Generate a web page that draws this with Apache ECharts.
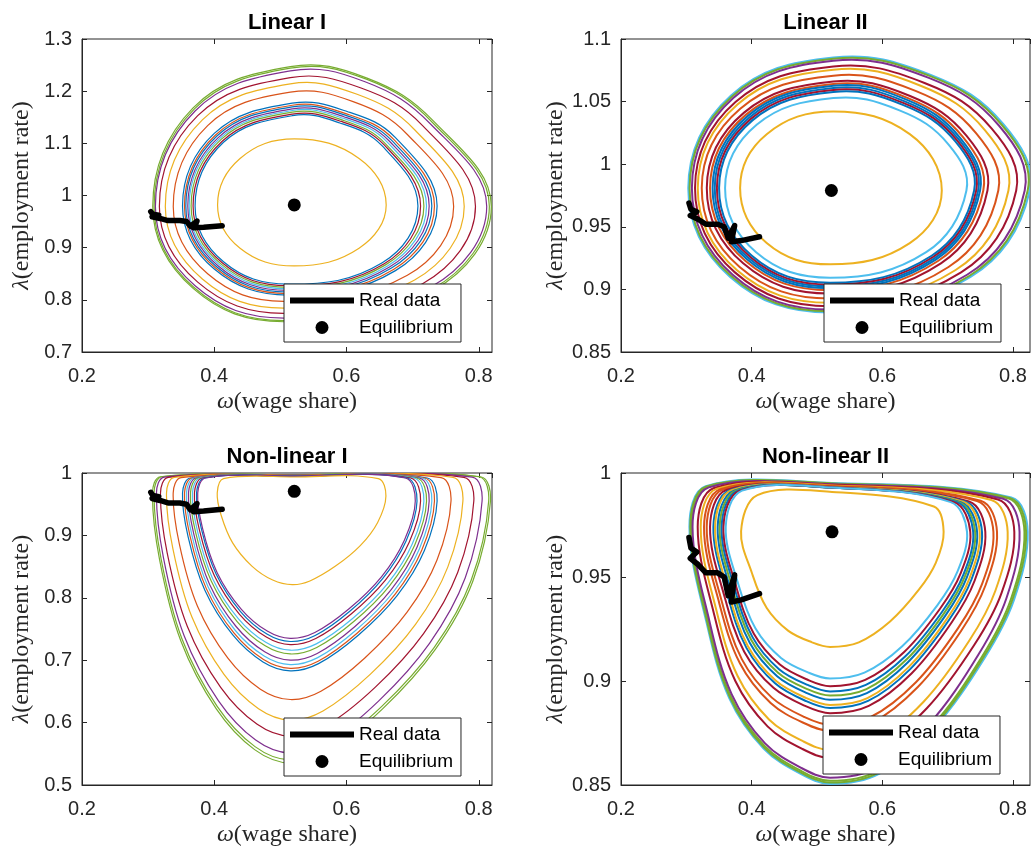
<!DOCTYPE html>
<html lang="en">
<head>
<meta charset="UTF-8" />
<title>Goodwin orbits</title>
<script src="https://cdn.jsdelivr.net/npm/echarts@6.0.0/dist/echarts.min.js"></script>
<style>
  html, body { margin: 0; padding: 0; background: #fff; }
  #lienzo { width: 1033px; height: 853px; }
</style>
</head>
<body>
<div id="lienzo"></div>
<script>
// observed data (same for every panel)
const realOmega = [0.304, 0.307, 0.316, 0.306, 0.318, 0.330, 0.348, 0.358, 0.364, 0.374, 0.369, 0.384, 0.412];
const realLambda = [0.969, 0.964, 0.962, 0.959, 0.956, 0.952, 0.952, 0.950, 0.941, 0.951, 0.938, 0.939, 0.942];

// equilibrium point of each model [omega, lambda]
const eqLinear1 = [0.521, 0.982];
const eqLinear2 = [0.522, 0.979];
const eqNonlinear1 = [0.521, 0.9707];
const eqNonlinear2 = [0.523, 0.9717];

// simulated orbits, one closed list of [omega, lambda] points per orbit
const orbitsLinear1 = [
  [[0.307,0.979],[0.368,1.168],[0.515,1.247],[0.631,1.225],[0.732,1.142],[0.819,0.979],[0.732,0.819],[0.505,0.758],[0.368,0.822]],
  [[0.309,0.979],[0.370,1.166],[0.515,1.244],[0.630,1.223],[0.730,1.140],[0.816,0.979],[0.730,0.821],[0.505,0.760],[0.369,0.824]],
  [[0.311,0.979],[0.371,1.162],[0.515,1.239],[0.628,1.218],[0.727,1.137],[0.812,0.979],[0.727,0.824],[0.505,0.765],[0.371,0.827]],
  [[0.317,0.979],[0.375,1.153],[0.515,1.226],[0.622,1.206],[0.715,1.134],[0.795,0.979],[0.715,0.831],[0.505,0.774],[0.375,0.834]],
  [[0.326,0.979],[0.382,1.145],[0.515,1.214],[0.616,1.194],[0.703,1.126],[0.778,0.979],[0.703,0.838],[0.505,0.784],[0.382,0.840]],
  [[0.338,0.979],[0.390,1.134],[0.515,1.198],[0.610,1.180],[0.692,1.117],[0.762,0.979],[0.692,0.847],[0.505,0.797],[0.390,0.850]],
  [[0.352,0.980],[0.400,1.119],[0.518,1.177],[0.601,1.161],[0.674,1.111],[0.737,0.980],[0.674,0.856],[0.512,0.809],[0.400,0.859]],
  [[0.355,0.980],[0.402,1.116],[0.518,1.173],[0.599,1.157],[0.671,1.108],[0.733,0.980],[0.671,0.858],[0.512,0.812],[0.402,0.861]],
  [[0.357,0.980],[0.404,1.114],[0.518,1.170],[0.598,1.154],[0.668,1.106],[0.729,0.980],[0.668,0.861],[0.512,0.815],[0.404,0.863]],
  [[0.360,0.980],[0.406,1.111],[0.518,1.166],[0.596,1.151],[0.665,1.104],[0.725,0.980],[0.665,0.863],[0.512,0.818],[0.406,0.865]],
  [[0.362,0.980],[0.408,1.109],[0.518,1.163],[0.595,1.148],[0.662,1.102],[0.721,0.980],[0.662,0.865],[0.512,0.821],[0.408,0.867]],
  [[0.365,0.980],[0.410,1.107],[0.518,1.160],[0.593,1.145],[0.659,1.099],[0.717,0.980],[0.659,0.867],[0.512,0.824],[0.410,0.869]],
  [[0.368,0.980],[0.412,1.104],[0.518,1.156],[0.592,1.142],[0.657,1.097],[0.712,0.980],[0.657,0.869],[0.512,0.827],[0.412,0.871]],
  [[0.371,0.980],[0.414,1.102],[0.518,1.153],[0.590,1.139],[0.654,1.095],[0.708,0.980],[0.654,0.871],[0.512,0.830],[0.414,0.873]],
  [[0.405,0.982],[0.439,1.071],[0.521,1.1085],[0.619,1.071],[0.660,0.982],[0.619,0.899],[0.521,0.865],[0.439,0.899]]
];
const orbitsLinear2 = [
  [[0.303,0.981],[0.368,1.0547],[0.525,1.0853],[0.675,1.0712],[0.785,1.0322],[0.8255,0.979],[0.735,0.910],[0.520,0.8815],[0.367,0.910]],
  [[0.305,0.981],[0.3695,1.0539],[0.525,1.0842],[0.6735,1.0703],[0.7824,1.0317],[0.8225,0.979],[0.7329,0.9107],[0.520,0.8825],[0.3686,0.9107]],
  [[0.3085,0.981],[0.3718,1.0528],[0.525,1.0826],[0.6712,1.0689],[0.7784,1.0309],[0.8179,0.979],[0.7297,0.9117],[0.520,0.8839],[0.3709,0.9117]],
  [[0.3133,0.981],[0.3752,1.0496],[0.525,1.0781],[0.6646,1.0649],[0.7671,1.0286],[0.8049,0.979],[0.7205,0.9136],[0.520,0.8866],[0.3743,0.9136]],
  [[0.3175,0.981],[0.3782,1.0477],[0.525,1.0755],[0.6586,1.0627],[0.7569,1.0273],[0.793,0.979],[0.7122,0.9155],[0.520,0.8893],[0.3772,0.9155]],
  [[0.3236,0.981],[0.3825,1.0443],[0.525,1.0707],[0.6508,1.0586],[0.7434,1.0249],[0.7775,0.979],[0.7013,0.9179],[0.520,0.8927],[0.3816,0.9179]],
  [[0.3313,0.981],[0.3879,1.041],[0.525,1.0661],[0.6424,1.0545],[0.729,1.0226],[0.7609,0.979],[0.6896,0.9208],[0.520,0.8967],[0.387,0.9208]],
  [[0.3363,0.981],[0.3914,1.0396],[0.525,1.064],[0.6392,1.0528],[0.7235,1.0216],[0.7545,0.979],[0.6852,0.9227],[0.520,0.8994],[0.3906,0.9227]],
  [[0.3402,0.981],[0.3942,1.0386],[0.525,1.0627],[0.6368,1.0516],[0.7193,1.0209],[0.7496,0.979],[0.6818,0.9238],[0.520,0.901],[0.3933,0.9238]],
  [[0.3435,0.981],[0.3965,1.0373],[0.525,1.0609],[0.6352,1.05],[0.7166,1.02],[0.7466,0.979],[0.6796,0.9248],[0.520,0.9025],[0.3957,0.9248]],
  [[0.3468,0.981],[0.3988,1.0362],[0.525,1.0593],[0.6337,1.0486],[0.714,1.0192],[0.7436,0.979],[0.6775,0.9259],[0.520,0.9039],[0.398,0.9259]],
  [[0.3501,0.981],[0.4011,1.035],[0.525,1.0577],[0.6322,1.0472],[0.7114,1.0184],[0.7405,0.979],[0.6754,0.9269],[0.520,0.9054],[0.4003,0.9269]],
  [[0.3593,0.981],[0.4076,1.0315],[0.525,1.0528],[0.6262,1.043],[0.7011,1.0159],[0.7287,0.979],[0.6671,0.9297],[0.520,0.9093],[0.4068,0.9297]],
  [[0.3823,0.981],[0.423,1.024],[0.525,1.0421],[0.642,1.024],[0.691,0.979],[0.642,0.937],[0.520,0.920],[0.423,0.937]]
];
const orbitsNonlinear1 = [
  [[0.3066,0.968],[0.3186,0.994],[0.521,0.997],[0.8027,0.994],[0.8177,0.955],[0.791,0.8264],[0.7346,0.7177],[0.6545,0.622],[0.5714,0.5524],[0.515,0.535],[0.461,0.5567],[0.4031,0.622],[0.3495,0.7307],[0.3173,0.8612]],
  [[0.309,0.968],[0.321,0.994],[0.521,0.997],[0.800,0.994],[0.815,0.955],[0.7885,0.8281],[0.7327,0.7206],[0.6533,0.626],[0.571,0.5572],[0.515,0.540],[0.4616,0.5615],[0.4044,0.626],[0.3514,0.7335],[0.3196,0.8625]],
  [[0.3126,0.968],[0.3246,0.9935],[0.521,0.9965],[0.790,0.9935],[0.805,0.955],[0.7794,0.8317],[0.7255,0.727],[0.6488,0.6348],[0.5693,0.5678],[0.515,0.551],[0.4626,0.572],[0.4064,0.6348],[0.3543,0.7395],[0.323,0.8652]],
  [[0.3187,0.968],[0.3307,0.993],[0.521,0.996],[0.7775,0.993],[0.7925,0.955],[0.7681,0.8406],[0.7165,0.7426],[0.6432,0.6564],[0.5672,0.5937],[0.515,0.578],[0.4644,0.5976],[0.4097,0.6564],[0.3592,0.7544],[0.3288,0.872]],
  [[0.3278,0.968],[0.3398,0.993],[0.521,0.996],[0.761,0.993],[0.776,0.955],[0.7531,0.8492],[0.7046,0.7577],[0.6358,0.6772],[0.5644,0.6186],[0.515,0.604],[0.4669,0.6223],[0.4147,0.6772],[0.3664,0.7687],[0.3375,0.8785]],
  [[0.3379,0.968],[0.3499,0.9925],[0.521,0.9955],[0.743,0.9925],[0.758,0.955],[0.7367,0.8601],[0.6916,0.7769],[0.6277,0.7036],[0.5613,0.6503],[0.515,0.637],[0.4697,0.6536],[0.4203,0.7036],[0.3745,0.7868],[0.3471,0.8867]],
  [[0.352,0.968],[0.364,0.992],[0.521,0.995],[0.722,0.992],[0.737,0.955],[0.7176,0.8753],[0.6765,0.8035],[0.6182,0.7404],[0.5577,0.6945],[0.515,0.683],[0.4737,0.6973],[0.428,0.7404],[0.3858,0.8121],[0.3604,0.8982]],
  [[0.355,0.968],[0.367,0.992],[0.521,0.995],[0.718,0.992],[0.733,0.955],[0.7139,0.8766],[0.6736,0.8059],[0.6164,0.7436],[0.557,0.6983],[0.515,0.687],[0.4745,0.7011],[0.4297,0.7436],[0.3882,0.8143],[0.3633,0.8992]],
  [[0.358,0.968],[0.370,0.992],[0.521,0.995],[0.714,0.992],[0.729,0.955],[0.7103,0.8786],[0.6708,0.8093],[0.6146,0.7484],[0.5564,0.7041],[0.515,0.693],[0.4754,0.7068],[0.4313,0.7484],[0.3906,0.8176],[0.3661,0.9007]],
  [[0.361,0.968],[0.373,0.992],[0.521,0.995],[0.710,0.992],[0.725,0.955],[0.7066,0.8809],[0.6679,0.8134],[0.6128,0.754],[0.5557,0.7108],[0.515,0.700],[0.4762,0.7135],[0.433,0.754],[0.393,0.8215],[0.369,0.9025]],
  [[0.364,0.968],[0.376,0.992],[0.521,0.995],[0.706,0.992],[0.721,0.955],[0.703,0.8842],[0.665,0.8192],[0.611,0.762],[0.555,0.7204],[0.515,0.710],[0.477,0.723],[0.4346,0.762],[0.3954,0.827],[0.3718,0.905]],
  [[0.367,0.968],[0.379,0.992],[0.521,0.995],[0.702,0.992],[0.717,0.955],[0.6994,0.8862],[0.6621,0.8227],[0.6092,0.7668],[0.5543,0.7262],[0.515,0.716],[0.4779,0.7287],[0.4363,0.7668],[0.3978,0.8303],[0.3747,0.9065]],
  [[0.370,0.968],[0.382,0.992],[0.521,0.995],[0.697,0.992],[0.712,0.955],[0.6948,0.8891],[0.6585,0.8279],[0.607,0.774],[0.5535,0.7348],[0.515,0.725],[0.4787,0.7372],[0.4379,0.774],[0.4002,0.8352],[0.3775,0.9087]],
  [[0.3732,0.968],[0.3852,0.992],[0.521,0.995],[0.6916,0.992],[0.7066,0.955],[0.6899,0.8908],[0.6546,0.8308],[0.6045,0.778],[0.5526,0.7396],[0.515,0.730],[0.4796,0.742],[0.4397,0.778],[0.4028,0.838],[0.3806,0.910]],
  [[0.375,0.968],[0.387,0.992],[0.521,0.995],[0.689,0.992],[0.704,0.955],[0.6875,0.8924],[0.6528,0.8337],[0.6034,0.782],[0.5521,0.7444],[0.515,0.735],[0.4801,0.7467],[0.4407,0.782],[0.4042,0.8407],[0.3823,0.9112]],
  [[0.4045,0.968],[0.414,0.991],[0.521,0.9936],[0.648,0.991],[0.6596,0.963],[0.6471,0.9208],[0.6208,0.8836],[0.5834,0.8508],[0.5446,0.827],[0.518,0.821],[0.4884,0.8284],[0.4569,0.8508],[0.4278,0.888],[0.4103,0.9327]]
];
const orbitsNonlinear2 = [
  [[0.3047,0.974],[0.3297,0.9937],[0.523,0.9952],[0.7975,0.9882],[0.8225,0.9717],[0.8015,0.939],[0.7566,0.9111],[0.6787,0.8772],[0.5949,0.8553],[0.520,0.8505],[0.475,0.8553],[0.4182,0.8675],[0.3658,0.8917],[0.3309,0.9281]],
  [[0.306,0.974],[0.331,0.9935],[0.523,0.995],[0.795,0.988],[0.820,0.9717],[0.7992,0.9392],[0.7547,0.9114],[0.6774,0.8777],[0.5943,0.856],[0.520,0.8512],[0.4753,0.856],[0.4188,0.8681],[0.3668,0.8922],[0.332,0.9283]],
  [[0.3075,0.974],[0.3325,0.9933],[0.523,0.9948],[0.7925,0.9878],[0.8175,0.9717],[0.7969,0.9394],[0.7527,0.9118],[0.6761,0.8783],[0.5937,0.8568],[0.520,0.852],[0.4756,0.8568],[0.4196,0.8688],[0.3678,0.8927],[0.3334,0.9286]],
  [[0.3095,0.974],[0.3345,0.9931],[0.523,0.9946],[0.785,0.9876],[0.810,0.9717],[0.7899,0.9398],[0.7469,0.9126],[0.6722,0.8795],[0.5919,0.8582],[0.520,0.8535],[0.476,0.8582],[0.4205,0.87],[0.3693,0.8937],[0.3351,0.9291]],
  [[0.3174,0.974],[0.3424,0.9928],[0.523,0.9943],[0.777,0.9873],[0.802,0.9717],[0.7825,0.9424],[0.7406,0.9173],[0.6681,0.8869],[0.59,0.8673],[0.520,0.863],[0.4778,0.8673],[0.4243,0.8782],[0.375,0.9],[0.3421,0.9326]],
  [[0.322,0.974],[0.347,0.9925],[0.523,0.994],[0.7668,0.987],[0.7918,0.9717],[0.773,0.9434],[0.7327,0.9192],[0.6628,0.8899],[0.5875,0.871],[0.520,0.8668],[0.4788,0.871],[0.4265,0.8815],[0.3783,0.9025],[0.3461,0.9339]],
  [[0.3271,0.974],[0.3521,0.9922],[0.523,0.9937],[0.7505,0.9867],[0.7755,0.9717],[0.7578,0.9459],[0.72,0.9238],[0.6543,0.8971],[0.5836,0.8798],[0.520,0.876],[0.4799,0.8798],[0.429,0.8894],[0.382,0.9085],[0.3506,0.9372]],
  [[0.3312,0.974],[0.3562,0.992],[0.523,0.9935],[0.745,0.9865],[0.770,0.9717],[0.7527,0.9467],[0.7157,0.9253],[0.6514,0.8994],[0.5823,0.8827],[0.520,0.879],[0.4808,0.8827],[0.4309,0.892],[0.3849,0.9105],[0.3542,0.9383]],
  [[0.3363,0.974],[0.3613,0.9918],[0.523,0.9933],[0.7326,0.9863],[0.7576,0.9717],[0.7412,0.9482],[0.706,0.9281],[0.645,0.9037],[0.5793,0.888],[0.520,0.8845],[0.4819,0.888],[0.4334,0.8967],[0.3886,0.9141],[0.3587,0.9403]],
  [[0.3414,0.974],[0.3664,0.9917],[0.523,0.9932],[0.7275,0.9862],[0.7525,0.9717],[0.7364,0.9488],[0.702,0.9293],[0.6423,0.9056],[0.5781,0.8904],[0.520,0.887],[0.483,0.8904],[0.4358,0.8989],[0.3922,0.9158],[0.3632,0.9412]],
  [[0.344,0.974],[0.369,0.9917],[0.523,0.9932],[0.724,0.9862],[0.749,0.9717],[0.7332,0.9492],[0.6993,0.9301],[0.6405,0.9068],[0.5772,0.8918],[0.520,0.8885],[0.4836,0.8918],[0.4371,0.9001],[0.3941,0.9168],[0.3655,0.9417]],
  [[0.348,0.974],[0.373,0.9915],[0.523,0.993],[0.720,0.986],[0.745,0.9717],[0.7295,0.9499],[0.6962,0.9313],[0.6384,0.9088],[0.5763,0.8942],[0.520,0.891],[0.4845,0.8942],[0.439,0.9023],[0.397,0.9184],[0.369,0.9426]],
  [[0.351,0.974],[0.376,0.9915],[0.523,0.993],[0.717,0.986],[0.742,0.9717],[0.7267,0.9505],[0.6938,0.9323],[0.6369,0.9103],[0.5756,0.8961],[0.520,0.893],[0.4852,0.8961],[0.4404,0.904],[0.3992,0.9198],[0.3716,0.9434]],
  [[0.354,0.974],[0.379,0.9915],[0.523,0.993],[0.714,0.986],[0.739,0.9717],[0.7239,0.951],[0.6915,0.9333],[0.6353,0.9119],[0.5748,0.8981],[0.520,0.895],[0.4858,0.8981],[0.4419,0.9057],[0.4013,0.9211],[0.3743,0.9441]],
  [[0.3568,0.974],[0.3818,0.9915],[0.523,0.993],[0.7096,0.986],[0.7346,0.9717],[0.7198,0.9517],[0.688,0.9346],[0.633,0.9138],[0.5738,0.9005],[0.520,0.8975],[0.4864,0.9005],[0.4432,0.9079],[0.4033,0.9227],[0.3767,0.945]],
  [[0.3603,0.974],[0.3853,0.9915],[0.523,0.993],[0.7046,0.986],[0.7296,0.9717],[0.7151,0.9527],[0.6841,0.9364],[0.6304,0.9167],[0.5726,0.904],[0.520,0.9012],[0.4872,0.904],[0.4449,0.9111],[0.4059,0.9252],[0.3798,0.9463]],
  [[0.3838,0.972],[0.4088,0.9894],[0.523,0.9909],[0.6788,0.9839],[0.6938,0.9717],[0.6818,0.9568],[0.6562,0.944],[0.6118,0.9286],[0.564,0.9186],[0.520,0.9164],[0.4924,0.9186],[0.4562,0.9241],[0.4228,0.9352],[0.4005,0.9518]]
];

// colour of each orbit (MATLAB default order)
const C = { blue: '#0072BD', orange: '#D95319', yellow: '#EDB120', purple: '#7E2F8E', green: '#77AC30', lightBlue: '#4DBEEE', darkRed: '#A2142F' };
const colorsLinear1 = ['green','green','purple','darkRed','yellow','orange','blue','orange','blue','purple','lightBlue','green','darkRed','blue','yellow'];
const colorsLinear2 = ['lightBlue','green','purple','darkRed','yellow','orange','darkRed','orange','blue','blue','darkRed','blue','lightBlue','yellow'];
const colorsNonlinear1 = ['green','green','purple','darkRed','yellow','orange','blue','orange','lightBlue','purple','green','lightBlue','darkRed','blue','purple','yellow'];
const colorsNonlinear2 = ['lightBlue','green','green','purple','darkRed','yellow','orange','orange','darkRed','blue','yellow','blue','green','blue','darkRed','lightBlue','yellow'];

const panels = [
  { title: 'Linear I', orbits: orbitsLinear1, colors: colorsLinear1, eq: eqLinear1, yMin: 0.7, yMax: 1.3, yStep: 0.1, xMax: 0.82,
    box: { left: 82, top: 39, width: 410, height: 313 }, lw: 1.2, smooth: 0.4, legend: { left: 284, top: 284 } },
  { title: 'Linear II', orbits: orbitsLinear2, colors: colorsLinear2, eq: eqLinear2, yMin: 0.85, yMax: 1.1, yStep: 0.05, xMax: 0.826,
    box: { left: 621, top: 39, width: 409, height: 313 }, lw: 2, smooth: 0.4, legend: { left: 824, top: 284 } },
  { title: 'Non-linear I', orbits: orbitsNonlinear1, colors: colorsNonlinear1, eq: eqNonlinear1, yMin: 0.5, yMax: 1, yStep: 0.1, xMax: 0.82,
    box: { left: 82, top: 473, width: 410, height: 312 }, lw: 1.2, smooth: 0.35, legend: { left: 284, top: 718 } },
  { title: 'Non-linear II', orbits: orbitsNonlinear2, colors: colorsNonlinear2, eq: eqNonlinear2, yMin: 0.85, yMax: 1, yStep: 0.05, xMax: 0.826,
    box: { left: 621, top: 473, width: 409, height: 312 }, lw: 2, smooth: 0.35, legend: { left: 823, top: 716 } }
];

const ink = '#262626';
const sans = 'Liberation Sans, Arial, sans-serif';
const serif = 'Liberation Serif, Times New Roman, serif';
const realData = realOmega.map((w, i) => [w, realLambda[i]]);

// closed orbit drawn as one smooth polygon through the axis coordinates
function orbitSeries(pts, color, width, smooth, axis) {
  return {
    type: 'custom', xAxisIndex: axis, yAxisIndex: axis, silent: true, clip: true, z: 2,
    data: pts, encode: { x: 0, y: 1 },
    renderItem: (params, api) => {
      if (params.dataIndex !== 0) return null;
      return {
        type: 'polygon',
        shape: { points: pts.map(q => api.coord(q)), smooth: smooth },
        style: { fill: 'none', stroke: color, lineWidth: width }
      };
    }
  };
}

let grids = [], xAxes = [], yAxes = [], titles = [], legends = [], series = [];

panels.forEach((p, i) => {
  grids.push(Object.assign({ show: true, borderColor: ink, borderWidth: 1, containLabel: false }, p.box));

  titles.push({
    text: p.title, left: p.box.left + p.box.width / 2, top: p.box.top - 27, textAlign: 'center', padding: 0,
    textStyle: { fontSize: 22, fontWeight: 'bold', color: '#000', fontFamily: sans }
  });

  const nameStyle = { fontFamily: serif, fontSize: 24, color: ink, rich: { g: { fontFamily: serif, fontSize: 24, fontStyle: 'italic', color: ink } } };

  xAxes.push({
    type: 'value', gridIndex: i, min: 0.2, max: p.xMax, interval: 0.2,
    name: '{g|ω}(wage share)', nameLocation: 'middle', nameGap: 38, nameTextStyle: nameStyle,
    axisLine: { show: true, lineStyle: { color: ink, width: 1 } },
    axisTick: { inside: true, length: 5, lineStyle: { color: ink } },
    axisLabel: { fontSize: 20, color: ink, fontFamily: sans, margin: 14, showMaxLabel: false },
    splitLine: { show: false }
  });
  xAxes.push({
    type: 'value', gridIndex: i, position: 'top', min: 0.2, max: p.xMax, interval: 0.2,
    axisLine: { show: false }, axisTick: { inside: true, length: 5, lineStyle: { color: ink } },
    axisLabel: { show: false }, splitLine: { show: false }
  });

  yAxes.push({
    type: 'value', gridIndex: i, min: p.yMin, max: p.yMax, interval: p.yStep,
    name: '{g|λ}(employment rate)', nameLocation: 'middle', nameGap: 48, nameTextStyle: nameStyle,
    axisLine: { show: true, lineStyle: { color: ink, width: 1 } },
    axisTick: { inside: true, length: 5, lineStyle: { color: ink } },
    axisLabel: { fontSize: 20, color: ink, fontFamily: sans, margin: 10 },
    splitLine: { show: false }
  });
  yAxes.push({
    type: 'value', gridIndex: i, position: 'right', min: p.yMin, max: p.yMax, interval: p.yStep,
    axisLine: { show: false }, axisTick: { inside: true, length: 5, lineStyle: { color: ink } },
    axisLabel: { show: false }, splitLine: { show: false }
  });

  p.orbits.forEach((pts, k) => {
    series.push(orbitSeries(pts, C[p.colors[k]], p.lw, p.smooth, 2 * i));
  });

  series.push({
    name: 'Real data', type: 'line', xAxisIndex: 2 * i, yAxisIndex: 2 * i, data: realData,
    symbol: 'none', showSymbol: false, color: '#000',
    lineStyle: { width: 5.5, color: '#000', cap: 'round', join: 'round' }, z: 3
  });
  series.push({
    name: 'Equilibrium', type: 'scatter', xAxisIndex: 2 * i, yAxisIndex: 2 * i, data: [p.eq],
    symbol: 'circle', symbolSize: 13, itemStyle: { color: '#000', opacity: 1 }, z: 4
  });

  legends.push({
    orient: 'vertical', left: p.legend.left, top: p.legend.top, selectedMode: false,
    data: [{ name: 'Real data', icon: 'path://M0 0H64V6H0Z' }, { name: 'Equilibrium', icon: 'circle' }],
    itemWidth: 64, itemHeight: 13, itemGap: 8, padding: [7, 8, 5, 6],
    itemStyle: { opacity: 1 },
    borderColor: ink, borderWidth: 1, backgroundColor: '#fff', borderRadius: 0,
    textStyle: { fontSize: 19, color: '#000', fontFamily: sans }
  });
});

const myChart = echarts.init(document.getElementById('lienzo'));
myChart.setOption({
  animation: false,
  backgroundColor: '#fff',
  title: titles,
  grid: grids,
  xAxis: xAxes,
  yAxis: yAxes,
  legend: legends,
  series: series
});
</script>
</body>
</html>
